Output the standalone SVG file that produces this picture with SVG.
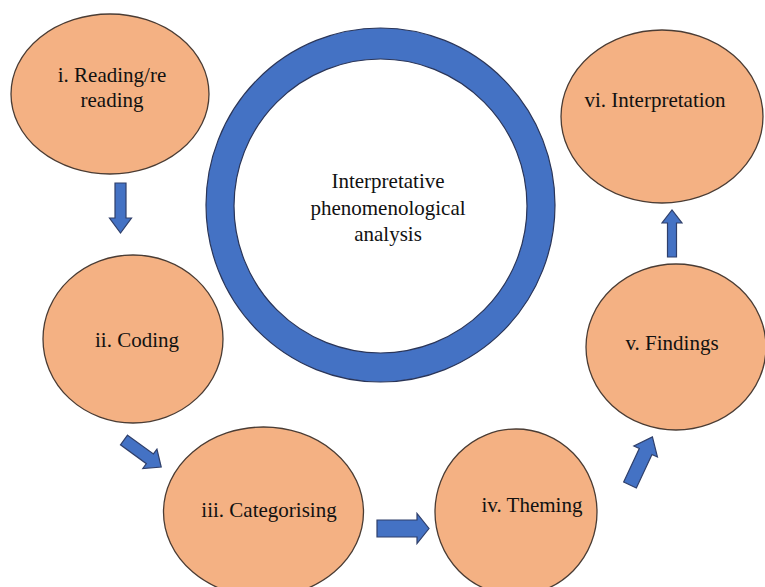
<svg xmlns="http://www.w3.org/2000/svg" width="765" height="587" viewBox="0 0 765 587">
<style>
.node{fill:#F4B183;stroke:#4a3c34;stroke-width:1.3}
.lbl{font-family:'Liberation Serif','Times New Roman','DejaVu Serif',serif;font-size:21px;fill:#111;text-anchor:middle}
.arr{fill:#4472C4;stroke:#2F3F6A;stroke-width:1.2;stroke-linejoin:miter}
.ring{fill:#4472C4;stroke:#2A3558;stroke-width:1.2}
.hole{fill:#fff;stroke:#2A3558;stroke-width:1.2}
</style>
<rect width="765" height="587" fill="#fff"/>
<g id="center">
<ellipse class="ring" cx="380.5" cy="205" rx="174.5" ry="177"/>
<ellipse class="hole" cx="380.5" cy="206" rx="146.5" ry="147"/>
<text class="lbl" x="388" y="188">Interpretative</text>
<text class="lbl" x="388" y="215">phenomenological</text>
<text class="lbl" x="388" y="241">analysis</text>
</g>
<g id="n1">
<ellipse class="node" cx="110" cy="94" rx="99" ry="80"/>
<text class="lbl" x="112" y="82">i. Reading/re</text>
<text class="lbl" x="112" y="107">reading</text>
</g>
<g id="n2">
<ellipse class="node" cx="133" cy="339" rx="90" ry="84"/>
<text class="lbl" x="137" y="347">ii. Coding</text>
</g>
<g id="n3">
<ellipse class="node" cx="263.5" cy="512" rx="100" ry="85"/>
<text class="lbl" x="269" y="517">iii. Categorising</text>
</g>
<g id="n4">
<ellipse class="node" cx="516" cy="512" rx="81" ry="83"/>
<text class="lbl" x="532" y="512">iv. Theming</text>
</g>
<g id="n5">
<ellipse class="node" cx="676" cy="347" rx="90" ry="83"/>
<text class="lbl" x="672" y="350">v. Findings</text>
</g>
<g id="n6">
<ellipse class="node" cx="662" cy="116.5" rx="101" ry="86.5"/>
<text class="lbl" x="655" y="107">vi. Interpretation</text>
</g>
<g id="connectors">
<polygon class="arr" points="0,-5.5 35,-5.5 35,-11 50,0 35,11 35,5.5 0,5.5" transform="translate(120.5,183) rotate(90)"/>
<polygon class="arr" points="0,-6 32,-6 32,-12 46,0 32,12 32,6 0,6" transform="translate(124,440) rotate(36)"/>
<polygon class="arr" points="0,-8.5 40,-8.5 40,-15 52,0 40,15 40,8.5 0,8.5" transform="translate(377,528.5)"/>
<polygon class="arr" points="0,-7 37,-7 37,-13 53,0 37,13 37,7 0,7" transform="translate(630,485) rotate(-65)"/>
<polygon class="arr" points="0,-4.5 34,-4.5 34,-10 47,0 34,10 34,4.5 0,4.5" transform="translate(672,257) rotate(-90)"/>
</g>
</svg>
